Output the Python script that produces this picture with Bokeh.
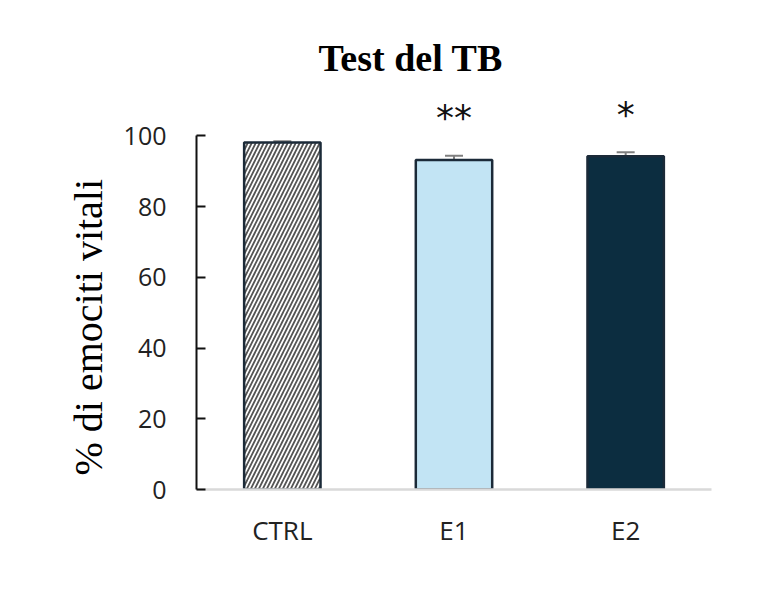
from bokeh.plotting import figure
from bokeh.models import ColumnDataSource, Range1d, Whisker, TeeHead, Title
from bokeh.core.properties import value
from bokeh.embed import file_html
from bokeh.resources import INLINE

categories = ["CTRL", "E1", "E2"]
values = [98.1, 93.2, 94.2]
errors = [0.4, 1.2, 1.2]
stars = ["", "**", "*"]
colors = ["#ffffff", "#c2e4f4", "#0c2d40"]
hatches = ["/", " ", " "]
y_ticks = [0, 20, 40, 60, 80, 100]

p = figure(width=782, height=613, x_range=categories, y_range=Range1d(0, 110),
           output_backend="svg", toolbar_location=None,
           min_border_left=196, min_border_right=71, min_border_top=100,
           min_border_bottom=124)
p.outline_line_color = None
p.xgrid.grid_line_color = None
p.ygrid.grid_line_color = None
p.x_range.range_padding = 0.0

src = ColumnDataSource(dict(x=categories, top=values, color=colors, hatch=hatches,
                            upper=[v + e for v, e in zip(values, errors)],
                            lower=values,
                            sy=[v + e + 10.7 for v, e in zip(values, errors)],
                            stars=stars))

w = Whisker(source=src, base="x", upper="upper", lower="lower",
            line_color="#7f7f7f", line_width=2,
            upper_head=TeeHead(size=18, line_color="#7f7f7f", line_width=2),
            lower_head=None)
p.add_layout(w)

p.vbar(x="x", top="top", width=0.445, source=src, fill_color="color",
       line_color="#1b2a38", line_width=2.5,
       hatch_pattern="hatch", hatch_color="#555555", hatch_scale=8, hatch_weight=1.8)

p.text(x="x", y="sy", text="stars", source=src, text_align="center",
       text_baseline="middle", text_font=value("DejaVu Sans"),
       text_font_size="36px", text_color="#111111")

p.title = Title(text="Test del TB", align="left", offset=122, standoff=44,
                text_font="Liberation Serif", text_font_size="38px",
                text_font_style="bold", text_color="#000000")

# y axis
p.yaxis.ticker = y_ticks
p.yaxis.bounds = (0, 100)
p.yaxis.axis_line_color = "#111111"
p.yaxis.axis_line_width = 2
p.yaxis.major_tick_in = 9
p.yaxis.major_tick_out = 0
p.yaxis.major_tick_line_width = 2
p.yaxis.major_tick_line_color = "#111111"
p.yaxis.minor_tick_line_color = None
p.yaxis.major_label_text_font = "Open Sans"
p.yaxis.major_label_text_font_size = "25px"
p.yaxis.major_label_text_color = "#222222"
p.yaxis.major_label_standoff = 30

ylab = Title(text="% di emociti vitali", align="left", offset=14, standoff=19,
             text_font="Liberation Serif", text_font_size="40px",
             text_font_style="normal", text_color="#000000")
p.add_layout(ylab, "left")

# x axis
p.xaxis.axis_line_color = "#d9d9d9"
p.xaxis.axis_line_width = 2.5
p.xaxis.major_tick_line_color = None
p.xaxis.minor_tick_line_color = None
p.xaxis.major_label_text_font = "Open Sans"
p.xaxis.major_label_text_font_size = "26px"
p.xaxis.major_label_text_color = "#222222"
p.xaxis.major_label_standoff = 16

open("out.html", "w").write(file_html(p, INLINE))
